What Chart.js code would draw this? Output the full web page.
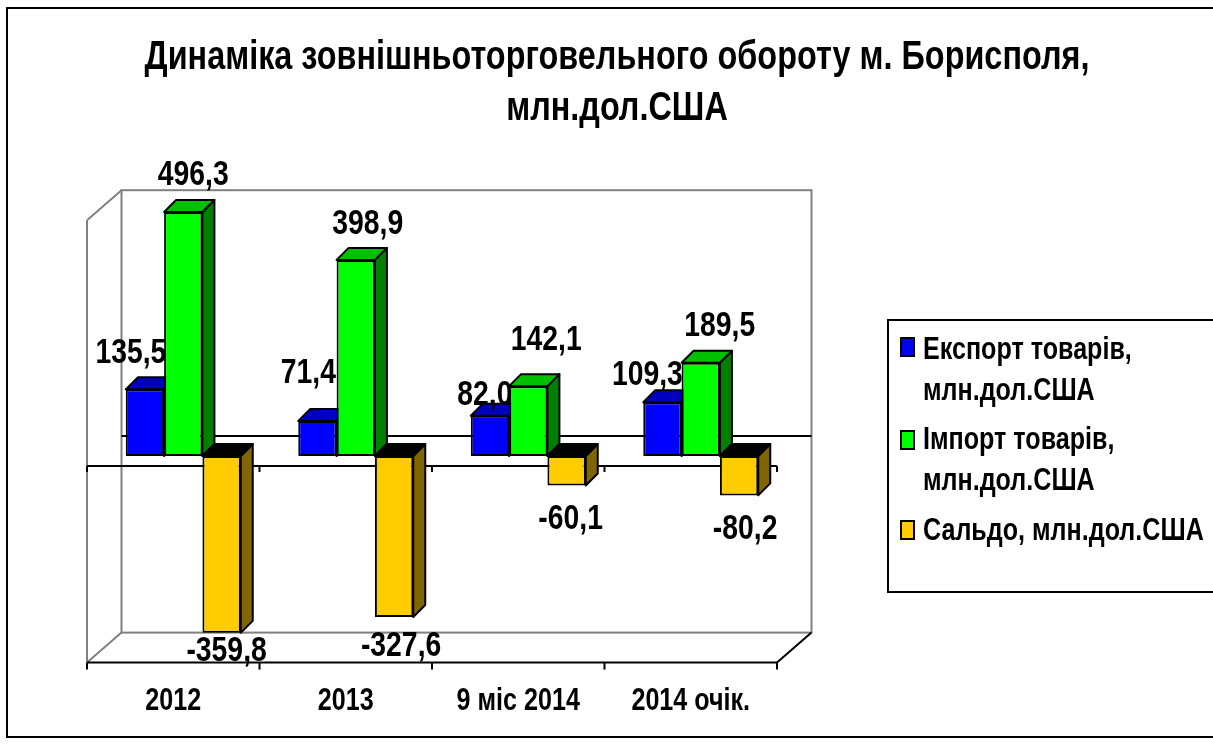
<!DOCTYPE html>
<html>
<head>
<meta charset="utf-8">
<title>Динаміка зовнішньоторговельного обороту</title>
<script src="https://cdn.jsdelivr.net/npm/chart.js@4"></script>
<style>
  html, body { margin: 0; padding: 0; background: #fff; overflow: hidden; }
  canvas { display: block; }
</style>
</head>
<body>
<canvas id="chart" width="1213" height="747"></canvas>
<script>
const FONT = '"Liberation Sans", Arial, sans-serif';

const categories = ["2012", "2013", "9 міс 2014", "2014 очік."];
const exportValues = [135.5, 71.4, 82.0, 109.3];
const importValues = [496.3, 398.9, 142.1, 189.5];
const balanceValues = [-359.8, -327.6, -60.1, -80.2];
const exportName = ["Експорт товарів,", "млн.дол.США"];
const importName = ["Імпорт товарів,", "млн.дол.США"];
const balanceName = ["Сальдо, млн.дол.США"];
const titleLines = ["Динаміка зовнішньоторговельного обороту м. Борисполя,", "млн.дол.США"];

// hand placed data labels, offset from the end of each bar [dx, dy]
const labelOffsets = [
  [[-14, -36], [-9, -48], [-5, -20], [-15, -27]],
  [[10, -37], [12, -36], [18, -46], [19, -36]],
  [[5, 19], [7, 29], [4, 34], [6, 34]],
];
// colours of the faked 3d faces
const sideColors = ["#000080", "#008000", "#806600"];
const capColors = ["#0000c0", "#00c000", "#000000"];
const DEPTH = 12;

function line(ctx, x1, y1, x2, y2) {
  ctx.beginPath();
  ctx.moveTo(x1, y1);
  ctx.lineTo(x2, y2);
  ctx.stroke();
}

function face(ctx, pts, color) {
  ctx.beginPath();
  pts.forEach((p, i) => (i ? ctx.lineTo(p[0], p[1]) : ctx.moveTo(p[0], p[1])));
  ctx.closePath();
  ctx.fillStyle = color;
  ctx.fill();
  ctx.lineWidth = 2;
  ctx.strokeStyle = "#000";
  ctx.lineJoin = "round";
  ctx.stroke();
}

// outer frame, walls, floor and the two zero lines
const backdrop = {
  id: "backdrop",
  beforeDatasetsDraw(chart) {
    const { ctx, chartArea: a, scales } = chart;
    const zero = scales.y.getPixelForValue(0);
    const front = { dx: -10, dy: 10 };
    const back = { dx: 24.5, dy: -20 };
    const fl = a.left + front.dx, fr = a.right + front.dx;
    const bl = a.left + back.dx, br = a.right + back.dx;
    ctx.save();
    ctx.lineWidth = 2;
    ctx.strokeStyle = "#000";
    ctx.strokeRect(7, 8, 1230, 729);

    ctx.strokeStyle = "#808080";
    ctx.strokeRect(bl, a.top + back.dy, br - bl, a.bottom - a.top);
    line(ctx, fl, a.top + front.dy, fl, a.bottom + front.dy);
    line(ctx, fl, a.top + front.dy, bl, a.top + back.dy);
    line(ctx, fl, a.bottom + front.dy, bl, a.bottom + back.dy);

    ctx.strokeStyle = "#000";
    line(ctx, fr, a.bottom + front.dy, br, a.bottom + back.dy);
    line(ctx, fl, a.bottom + front.dy, fr, a.bottom + front.dy);
    line(ctx, bl, zero + back.dy, br, zero + back.dy);
    line(ctx, fl, zero + front.dy, fr, zero + front.dy);
    for (let i = 0; i <= categories.length; i++) {
      const x = fl + (i * (fr - fl)) / categories.length;
      line(ctx, x, a.bottom + front.dy, x, a.bottom + front.dy + 7);
      line(ctx, x, zero + front.dy, x, zero + front.dy + 6);
    }
    ctx.restore();
  },
  // chart.js paints the last dataset first, the boxes need the first one at the back
  beforeDatasetDraw() {
    return false;
  },
  afterDatasetsDraw(chart) {
    const { ctx, scales } = chart;
    const zero = scales.y.getPixelForValue(0);
    chart.data.datasets.forEach((ds, i) => {
      const meta = chart.getDatasetMeta(i);
      meta.controller.draw();
      ctx.save();
      meta.data.forEach((bar, j) => {
        const l = bar.x - bar.width / 2, r = bar.x + bar.width / 2;
        const top = Math.min(bar.y, zero), bottom = Math.max(bar.y, zero);
        face(ctx, [[r, top], [r + DEPTH, top - DEPTH], [r + DEPTH, bottom - DEPTH], [r, bottom]], sideColors[i]);
        face(ctx, [[l, top], [l + DEPTH, top - DEPTH], [r + DEPTH, top - DEPTH], [r, top]], capColors[i]);
        const off = labelOffsets[i][j];
        ctx.fillStyle = "#000";
        ctx.font = "bold 35px " + FONT;
        ctx.textAlign = "center";
        ctx.textBaseline = "middle";
        ctx.fillText(ds.data[j].toFixed(1).replace(".", ","), bar.x + off[0], bar.y + off[1]);
      });
      ctx.restore();
    });
  },
  afterDraw(chart) {
    const { ctx } = chart;
    ctx.save();
    ctx.lineWidth = 2;
    ctx.strokeStyle = "#000";
    ctx.strokeRect(888, 320, 340, 272);
    ctx.font = "bold 31px " + FONT;
    ctx.textBaseline = "middle";
    ctx.textAlign = "left";
    const rows = [
      { lines: exportName, y: 350, box: 338, dy: 41 },
      { lines: importName, y: 440, box: 431, dy: 41 },
      { lines: balanceName, y: 531, box: 521, dy: 0 },
    ];
    rows.forEach((row, i) => {
      ctx.fillStyle = chart.data.datasets[i].backgroundColor;
      ctx.fillRect(901, row.box, 13, 18);
      ctx.strokeRect(901, row.box, 13, 18);
      ctx.fillStyle = "#000";
      row.lines.forEach((t, k) => ctx.fillText(t, 923, row.y + k * row.dy));
    });
    ctx.restore();
  },
};

const canvas = document.getElementById("chart");
const context = canvas.getContext("2d");

// the reference text is a narrow arial, no narrow face is installed so squeeze it with maxWidth
const plainFillText = context.fillText.bind(context);
context.fillText = (text, x, y, maxWidth) => {
  const narrow = context.measureText(text).width * 0.81;
  plainFillText(text, x, y, maxWidth === undefined ? narrow : Math.min(narrow, maxWidth));
};

new Chart(context, {
  type: "bar",
  data: {
    labels: categories,
    datasets: [
      { label: exportName.join(" "), data: exportValues, backgroundColor: "#0000ff" },
      { label: importName.join(" "), data: importValues, backgroundColor: "#00ff00" },
      { label: balanceName.join(" "), data: balanceValues, backgroundColor: "#ffcc00" },
    ],
  },
  options: {
    responsive: false,
    animation: false,
    layout: { autoPadding: false, padding: { left: 21 } },
    datasets: {
      bar: {
        categoryPercentage: 2 / 3,
        barPercentage: 1,
        borderColor: "#000",
        borderWidth: 2,
        borderSkipped: false,
      },
    },
    plugins: {
      legend: { display: false },
      tooltip: { enabled: false },
      title: {
        display: true,
        text: titleLines,
        color: "#000",
        font: { family: FONT, size: 40, weight: "bold", lineHeight: 1.275 },
        padding: { top: 32, bottom: 76.2 },
      },
    },
    scales: {
      x: {
        grid: { display: false },
        border: { display: false },
        ticks: {
          color: "#000",
          font: { family: FONT, size: 31, weight: "bold" },
          labelOffset: -10,
          padding: 22,
          maxRotation: 0,
          autoSkip: false,
        },
        afterFit(scale) { scale.height = 94.4; },
      },
      y: {
        min: -400,
        max: 500,
        grid: { display: false },
        border: { display: false },
        ticks: { display: false },
        afterFit(scale) { scale.width = 76; },
      },
      spacer: {
        type: "linear",
        position: "right",
        grid: { display: false },
        border: { display: false },
        ticks: { display: false },
        afterFit(scale) { scale.width = 426; },
      },
    },
  },
  plugins: [backdrop],
});
</script>
</body>
</html>
